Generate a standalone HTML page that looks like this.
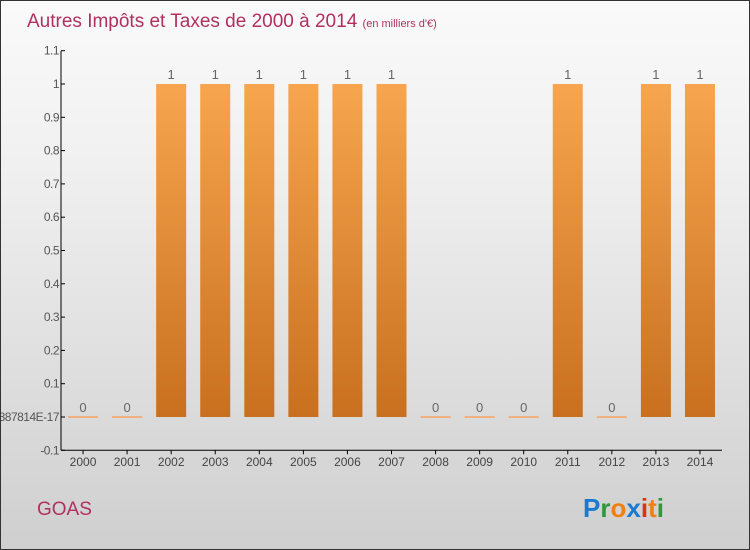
<!DOCTYPE html>
<html><head><meta charset="utf-8"><style>
body{margin:0}
#c{width:748px;height:548px;border:1px solid #333;background:linear-gradient(#fafafa,#f0f0f0 30%,#cfcfcf);position:relative;overflow:hidden;font-family:"Liberation Sans",sans-serif}
</style></head><body>
<div id="c">
<svg id="s" width="748" height="548" xmlns="http://www.w3.org/2000/svg">
<defs><linearGradient id="g" x1="0" y1="0" x2="0" y2="1"><stop offset="0" stop-color="#f7a54e"/><stop offset="1" stop-color="#c8701f"/></linearGradient></defs>
<text x="26" y="26" font-size="19" fill="#b03060">Autres Impôts et Taxes de 2000 à 2014 <tspan font-size="11">(en milliers d'€)</tspan></text>
<text x="36" y="514" font-size="19" fill="#b03060">GOAS</text>
<text x="582" y="516" font-size="26" font-weight="bold"><tspan fill="#1a7ad0">P</tspan><tspan fill="#2a9a3a">r</tspan><tspan fill="#f08010">o</tspan><tspan fill="#1a7ad0">x</tspan><tspan fill="#e03010">i</tspan><tspan fill="#f08010">t</tspan><tspan fill="#2a9a3a">i</tspan></text>
<g id="plot"></g>
</svg></div>
<script>
const categories=["2000","2001","2002","2003","2004","2005","2006","2007","2008","2009","2010","2011","2012","2013","2014"];
const values=[0,0,1,1,1,1,1,1,0,0,0,1,0,1,1];
const yTicks=[-0.1,0,0.1,0.2,0.3,0.4,0.5,0.6,0.7,0.8,0.9,1,1.1];
const yTickLabels=["-0.1","1.387814E-17","0.1","0.2","0.3","0.4","0.5","0.6","0.7","0.8","0.9","1","1.1"];
const NS="http://www.w3.org/2000/svg";
const g=document.getElementById('plot');
const x0=60,x1=721,bw=(x1-x0)/categories.length;
const y=v=>416-v*333;
const xc=i=>x0+bw*(i+0.5);
function el(t,a){const e=document.createElementNS(NS,t);for(const k in a)e.setAttribute(k,a[k]);g.appendChild(e);return e;}
let ax=el('line',{x1:x0,y1:y(1.1),x2:x0,y2:y(-0.1),stroke:'#000','stroke-width':1});


let bx=el('line',{x1:x0,y1:y(-0.1),x2:x1,y2:y(-0.1),stroke:'#000','stroke-width':1});


yTicks.forEach((t,i)=>{
 el('line',{x1:x0,y1:y(t),x2:x0+4,y2:y(t),stroke:'#000'});
 const tx=el('text',{x:x0-2,y:y(t)+4,'font-size':12,fill:'#555','text-anchor':'end','letter-spacing':'-0.5'});
 tx.textContent=yTickLabels[i];
 
 
});
categories.forEach((c,i)=>{
 const cx=xc(i);
 el('line',{x1:cx,y1:y(-0.1),x2:cx,y2:y(-0.1)+4,stroke:'#000'});
 const tl=el('text',{x:cx,y:465,'font-size':12,fill:'#444','text-anchor':'middle'});
 tl.textContent=c;
 
 
 const v=values[i];
 let b;
 if(v>0){b=el('rect',{x:cx-15,y:y(v),width:30,height:y(0)-y(v),fill:'url(#g)'});}
 else{b=el('rect',{x:cx-15,y:y(0)-1,width:30,height:2,fill:'#f0b080'});}
 
 
 const vl=el('text',{x:cx,y:y(v)-5,'font-size':13,fill:'#666','text-anchor':'middle'});
 vl.textContent=String(v);
 
 
});
</script>
</body></html>
